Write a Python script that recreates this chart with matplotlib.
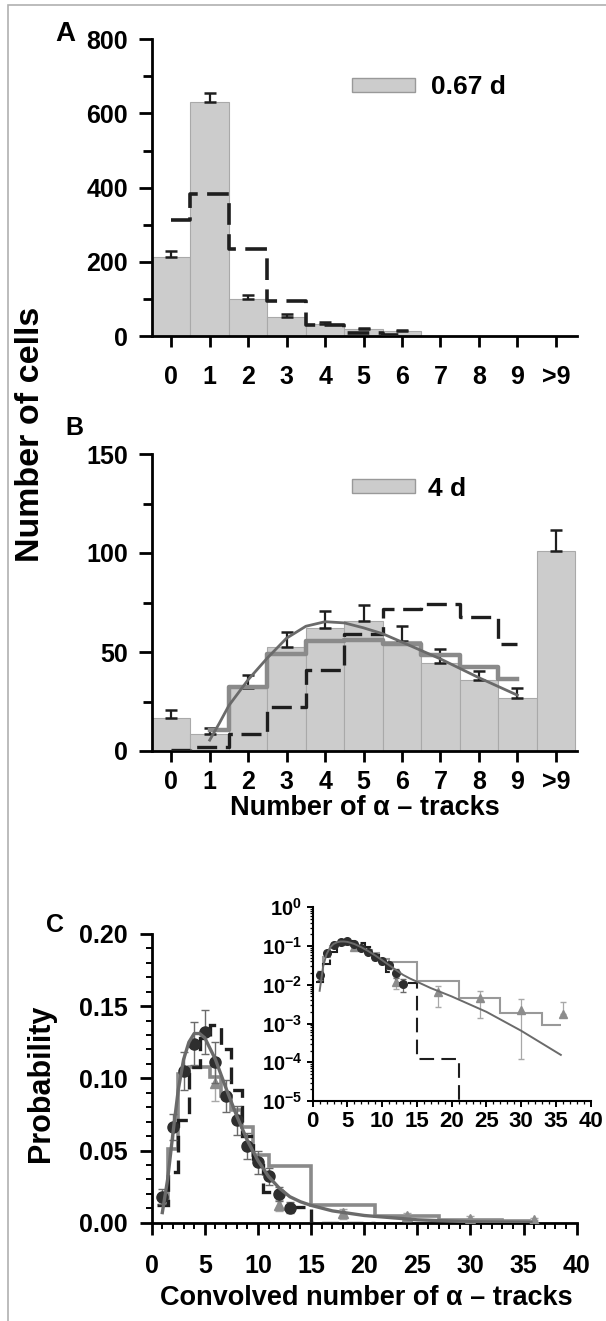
import matplotlib
matplotlib.use('Agg')
import matplotlib.pyplot as plt
import numpy as np
from matplotlib.patches import Patch, Rectangle
from matplotlib.ticker import MultipleLocator, LogLocator, NullFormatter, FuncFormatter

plt.rcParams['font.family'] = ['Liberation Sans', 'DejaVu Sans']
plt.rcParams['font.weight'] = 'bold'
plt.rcParams['mathtext.fontset'] = 'custom'
plt.rcParams['mathtext.rm'] = 'Liberation Sans:bold'
plt.rcParams['mathtext.it'] = 'Liberation Sans:bold'
plt.rcParams['mathtext.bf'] = 'Liberation Sans:bold'
plt.rcParams['mathtext.default'] = 'rm'

# ---------------- data ----------------
categories = ['0', '1', '2', '3', '4', '5', '6', '7', '8', '9', '>9']

# Panel A (0.67 d)
a_counts = [214, 631, 100, 50, 32, 18, 13, 0, 0, 0, 0]
a_err = [16, 25, 10, 8, 7, 4, 4, 0, 0, 0, 0]
a_model_x = [0, 1, 2, 3, 4, 5, 6]
a_model = [313, 382, 234, 94, 31, 9, 3]

# Panel B (4 d)
b_counts = [16.5, 8.7, 32, 52.5, 62.2, 65.6, 55.5, 44.6, 35.8, 26.6, 101.2]
b_err = [4.2, 3.1, 6.2, 7.4, 8.4, 8.1, 7.6, 6.7, 4.6, 5.3, 10.3]
b_dash_x = [0, 1, 2, 3, 4, 5, 6, 7, 8, 9]
b_dash = [0.3, 2.0, 8.7, 22.2, 40.7, 59.2, 71.5, 74.3, 67.6, 54.1]
b_step_x = [1, 2, 3, 4, 5, 6, 7, 8, 9]
b_step = [10.4, 32.3, 48.8, 55.5, 56.3, 53.8, 48.4, 42.4, 36.5]
b_curve_x = [1, 1.25, 1.5, 2, 2.5, 3, 3.5, 4, 4.5, 5, 5.5, 6, 7, 8, 9]
b_curve = [5.5, 14, 23, 36, 47, 57, 63, 65.3, 64.7, 62.2, 59.2, 55, 46.5, 37, 28.2]

# Panel C
c_circ_x = [1, 2, 3, 4, 5, 6, 7, 8, 9, 10, 11, 12, 13]
c_circ = [0.018, 0.066, 0.105, 0.124, 0.132, 0.111, 0.088, 0.071, 0.053, 0.042, 0.032, 0.020, 0.0105]
c_circ_err = [0.005, 0.009, 0.013, 0.015, 0.015, 0.014, 0.011, 0.010, 0.009, 0.008, 0.006, 0.005, 0.004]
c_tri_x = [6, 12, 18, 24, 30, 36]
c_tri = [0.097, 0.012, 0.0066, 0.0045, 0.0023, 0.0018]
c_tri_err_lo = [0.013, 0.004, 0.0039, 0.0031, 0.00218, 0.0]
c_tri_err_hi = [0.012, 0.004, 0.0027, 0.0024, 0.0020, 0.0017]
c_gray_edges = [1, 1.5, 2.5, 3.5, 5.5, 6.5, 7.5, 8.5, 9.5, 11, 15, 21, 27, 33, 35.7]
c_gray = [0.012, 0.051, 0.103, 0.108, 0.101, 0.088, 0.078, 0.066, 0.047, 0.039, 0.0125, 0.0045, 0.0019, 0.0009]
c_dash_edges = [0.5, 1.5, 2.5, 3.5, 4.5, 5.5, 6.5, 7.5, 8.5, 9.5, 10.5, 12, 15, 21, 21.05]
c_dash = [0.012, 0.035, 0.071, 0.108, 0.128, 0.137, 0.120, 0.092, 0.060, 0.040, 0.0215, 0.011, 0.00012, 1e-9]
c_curve_x = [1.0, 1.5, 2.0, 2.5, 3.0, 3.5, 4.0, 4.5, 5.0, 6.0, 7.0, 8.0, 9.0, 10.0, 11.0, 12.0,
             13.0, 14.0, 15.0, 17.0, 20.0, 25.0, 30.0, 35.7]
c_curve = [0.007, 0.030, 0.062, 0.092, 0.113, 0.125, 0.131, 0.131, 0.128, 0.113, 0.093, 0.074,
           0.057, 0.043, 0.032, 0.024, 0.018, 0.0145, 0.012, 0.0082, 0.0050, 0.0020, 0.00065, 0.000155]

# ---------------- styles ----------------
W, H = 606, 1321
DPI = 100
BAR = '#cccccc'
BAR_EDGE = '#a9a9a9'
DARK = '#1e1e1e'
GRAY_STEP = '#8a8a8a'
CURVE = '#6a6a6a'
TICK_FS = 18
SPINE_W = 2.0

fig = plt.figure(figsize=(W / DPI, H / DPI), dpi=DPI)


def rect(x0, y0, x1, y1):
    return [x0 / W, 1 - y1 / H, (x1 - x0) / W, (y1 - y0) / H]


def style_axes(ax, lw=SPINE_W):
    for s in ['top', 'right']:
        ax.spines[s].set_visible(False)
    for s in ['left', 'bottom']:
        ax.spines[s].set_linewidth(lw)


# frame border
fig.patches.append(Rectangle((8 / W, -0.01), 1.1, 1 - 5 / H + 0.01, transform=fig.transFigure,
                             fill=False, edgecolor='#b0b0b0', linewidth=1.2))

pos = np.arange(len(categories))

# ---------------- Panel A ----------------
axA = fig.add_axes(rect(152, 39.3, 577, 336))
axA.bar(pos, a_counts, width=1.0, color=BAR, edgecolor=BAR_EDGE, linewidth=0.8, zorder=1)
mask = np.array(a_err) > 0
axA.errorbar(pos[mask], np.array(a_counts)[mask],
             yerr=[np.zeros(mask.sum()), np.array(a_err)[mask]],
             fmt='none', ecolor=DARK, elinewidth=1.6, capsize=4, capthick=1.8, zorder=2)
axA.step(a_model_x, a_model, where='mid', color=DARK, linewidth=2.6, dashes=(6, 2.6), zorder=3)
axA.set_xlim(-0.5, 10.55)
axA.set_ylim(0, 800)
axA.set_xticks(pos)
axA.set_xticklabels(categories)
axA.yaxis.set_major_locator(MultipleLocator(200))
axA.yaxis.set_minor_locator(MultipleLocator(100))
style_axes(axA)
axA.tick_params(axis='y', which='major', direction='out', length=9.4, width=SPINE_W, labelsize=TICK_FS, pad=8)
axA.tick_params(axis='y', which='minor', direction='out', length=6.4, width=SPINE_W)
axA.tick_params(axis='x', which='major', direction='out', length=7.7, width=SPINE_W, labelsize=TICK_FS, pad=13)
axA.legend(handles=[Patch(facecolor=BAR, edgecolor='#999999', label='0.67 d')],
           loc='center left', bbox_to_anchor=(351.7 / W, 1 - 87.3 / H), bbox_transform=fig.transFigure,
           frameon=False, fontsize=19, handlelength=2.4, handleheight=0.46, handletextpad=0.62,
           borderpad=0, borderaxespad=0)

# ---------------- Panel B ----------------
axB = fig.add_axes(rect(152, 454, 577, 751))
axB.bar(pos, b_counts, width=1.0, color=BAR, edgecolor=BAR_EDGE, linewidth=0.8, zorder=1)
axB.errorbar(pos, b_counts, yerr=[np.zeros(len(b_err)), b_err],
             fmt='none', ecolor=DARK, elinewidth=1.6, capsize=4, capthick=1.8, zorder=2)
axB.step(b_dash_x, b_dash, where='mid', color=DARK, linewidth=2.4, dashes=(6, 2.6), zorder=3)
axB.step(b_step_x, b_step, where='mid', color=GRAY_STEP, linewidth=3.2, zorder=4)
axB.plot(b_curve_x, b_curve, color=CURVE, linewidth=2.0, zorder=5)
axB.set_xlim(-0.5, 10.55)
axB.set_ylim(0, 150)
axB.set_xticks(pos)
axB.set_xticklabels(categories)
axB.yaxis.set_major_locator(MultipleLocator(50))
axB.yaxis.set_minor_locator(MultipleLocator(25))
style_axes(axB)
axB.tick_params(axis='y', which='major', direction='out', length=9.4, width=SPINE_W, labelsize=TICK_FS, pad=8)
axB.tick_params(axis='y', which='minor', direction='out', length=6.4, width=SPINE_W)
axB.tick_params(axis='x', which='major', direction='out', length=7.7, width=SPINE_W, labelsize=TICK_FS, pad=6)
axB.legend(handles=[Patch(facecolor=BAR, edgecolor='#999999', label='4 d')],
           loc='center left', bbox_to_anchor=(351.7 / W, 1 - 488.5 / H), bbox_transform=fig.transFigure,
           frameon=False, fontsize=19, handlelength=2.4, handleheight=0.46, handletextpad=0.5,
           borderpad=0, borderaxespad=0)

# ---------------- Panel C ----------------
axC = fig.add_axes(rect(151.7, 933.9, 576.7, 1222.7))
axC.stairs(c_gray, c_gray_edges, baseline=None, color=GRAY_STEP, linewidth=2.6, zorder=2)
axC.stairs(c_dash, c_dash_edges, baseline=None, color=DARK, linewidth=2.4, linestyle=(0, (5, 2.4)), zorder=3)
axC.errorbar(c_tri_x, c_tri, yerr=[c_tri_err_lo, c_tri_err_hi], fmt='^', color='#8c8c8c',
             markersize=7.5, ecolor='#a8a8a8', elinewidth=1.0, capsize=3, zorder=4)
axC.errorbar(c_circ_x, c_circ, yerr=c_circ_err, fmt='o', color='#2e2e2e',
             markersize=8, ecolor='#6a6a6a', elinewidth=1.0, capsize=3, zorder=5)
axC.plot(c_curve_x, c_curve, color=CURVE, linewidth=2.4, zorder=6)
axC.set_xlim(0, 40)
axC.set_ylim(0, 0.2)
axC.xaxis.set_major_locator(MultipleLocator(5))
axC.xaxis.set_minor_locator(MultipleLocator(1))
axC.yaxis.set_major_locator(MultipleLocator(0.05))
axC.yaxis.set_minor_locator(MultipleLocator(0.01))
axC.yaxis.set_major_formatter(FuncFormatter(lambda v, p: f'{v:.2f}'))
style_axes(axC)
axC.tick_params(axis='both', which='major', direction='out', length=8.5, width=SPINE_W, labelsize=TICK_FS)
axC.tick_params(axis='both', which='minor', direction='out', length=4.5, width=1.4)
axC.tick_params(axis='x', which='major', pad=14)
axC.tick_params(axis='y', which='major', pad=9)

# ---------------- Inset ----------------
axI = fig.add_axes(rect(312.7, 907.3, 590.7, 1101))
axI.stairs(c_gray, c_gray_edges, baseline=None, color='#999999', linewidth=1.5, zorder=2)
axI.stairs(c_dash, c_dash_edges, baseline=None, color=DARK, linewidth=1.5, linestyle=(0, (7, 3.5)), zorder=3)
axI.errorbar(c_tri_x, c_tri, yerr=[c_tri_err_lo, c_tri_err_hi], fmt='^', color='#8c8c8c',
             markersize=5.5, ecolor='#a8a8a8', elinewidth=0.9, capsize=2.5, zorder=4)
axI.errorbar(c_circ_x, c_circ, yerr=c_circ_err, fmt='o', color='#2e2e2e',
             markersize=5.5, ecolor='#6a6a6a', elinewidth=0.9, capsize=2.5, zorder=5)
axI.plot(c_curve_x, c_curve, color=CURVE, linewidth=1.4, zorder=6)
axI.set_yscale('log')
axI.set_xlim(0, 40)
axI.set_ylim(1e-5, 1)
axI.xaxis.set_major_locator(MultipleLocator(5))
axI.xaxis.set_minor_locator(MultipleLocator(1))
axI.yaxis.set_major_locator(LogLocator(base=10, numticks=10))
axI.yaxis.set_minor_locator(LogLocator(base=10, subs=np.arange(2, 10), numticks=10))
axI.yaxis.set_minor_formatter(NullFormatter())
axI.yaxis.set_major_formatter(FuncFormatter(lambda v, p: r'$10^{%d}$' % int(round(np.log10(v)))))
style_axes(axI, lw=1.5)
axI.tick_params(axis='both', which='major', direction='out', length=4.5, width=1.4, pad=3)
axI.tick_params(axis='x', which='major', labelsize=16)
axI.tick_params(axis='y', which='major', labelsize=14.5)
axI.tick_params(axis='both', which='minor', direction='out', length=2.2, width=0.9)

# ---------------- labels ----------------
fig.text(65 / W, 1 - 34 / H, 'A', fontsize=20, fontweight='bold', ha='center', va='center')
fig.text(74 / W, 1 - 427.5 / H, 'B', fontsize=18, fontweight='bold', ha='center', va='center')
fig.text(55 / W, 1 - 925 / H, 'C', fontsize=18, fontweight='bold', ha='center', va='center')
fig.text(31 / W, 1 - 434 / H, 'Number of cells', fontsize=24.5, fontweight='bold', rotation=90,
         ha='center', va='center')
fig.text(364.5 / W, 1 - 808 / H, 'Number of α – tracks', fontsize=19.5, fontweight='bold',
         ha='center', va='center')
fig.text(41 / W, 1 - 1083 / H, 'Probability', fontsize=22, fontweight='bold', rotation=90,
         ha='center', va='center')
fig.text(366 / W, 1 - 1298 / H, 'Convolved number of α – tracks', fontsize=19.5, fontweight='bold',
         ha='center', va='center')

fig.savefig('out.png', dpi=DPI)
